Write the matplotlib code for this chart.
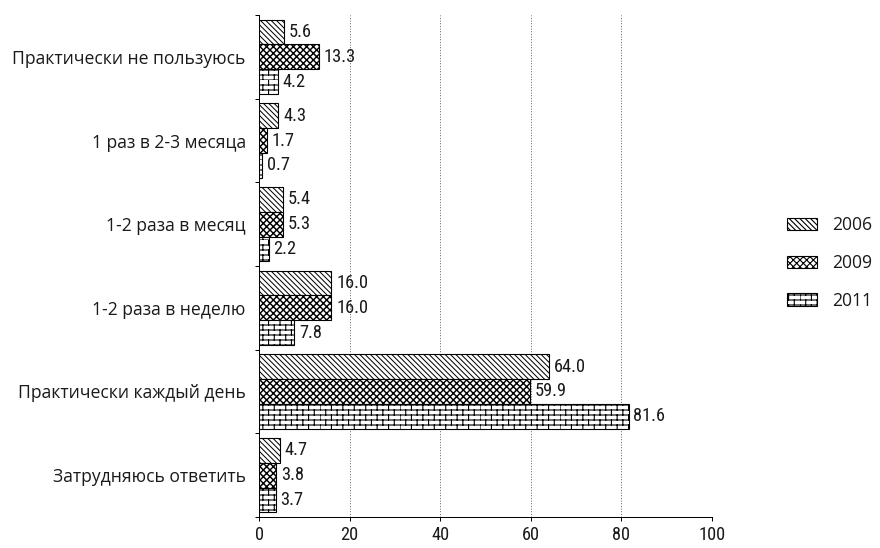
import matplotlib
matplotlib.use("Agg")
import matplotlib.pyplot as plt
import matplotlib.hatch as mhatch
from matplotlib.path import Path
import numpy as np

categories = ["Практически не пользуюсь", "1 раз в 2-3 месяца", "1-2 раза в месяц",
              "1-2 раза в неделю", "Практически каждый день", "Затрудняюсь ответить"]
years = ["2006", "2009", "2011"]
v2006 = [5.6, 4.3, 5.4, 16.0, 64.0, 4.7]
v2009 = [13.3, 1.7, 5.3, 16.0, 59.9, 3.8]
v2011 = [4.2, 0.7, 2.2, 7.8, 81.6, 3.7]
xticks = [0, 20, 40, 60, 80, 100]


class BrickHatch(mhatch.HatchPatternBase):
    def __init__(self, hatch, density):
        k = hatch.count('b')
        self.n = 16 * k
        self.m = 7
        self.num_vertices = (self.n * 2 + self.n * self.m * 2) if k else 0

    def set_vertices_and_codes(self, vertices, codes):
        n, m = self.n, self.m
        idx = 0
        for i in range(n):
            yv = i / n
            vertices[idx] = (0, yv); vertices[idx + 1] = (1, yv)
            codes[idx] = Path.MOVETO; codes[idx + 1] = Path.LINETO
            idx += 2
        for i in range(n):
            y0, y1 = i / n, (i + 1) / n
            off = 0.5 * (i % 2)
            for j in range(m):
                x = (j + off) / m
                vertices[idx] = (x, y0); vertices[idx + 1] = (x, y1)
                codes[idx] = Path.MOVETO; codes[idx + 1] = Path.LINETO
                idx += 2


mhatch._hatch_types.append(BrickHatch)

plt.rcParams['hatch.linewidth'] = 1.0
NARROW = ['Roboto Condensed', 'Liberation Sans Narrow', 'DejaVu Sans']
WIDE = ['Open Sans', 'DejaVu Sans']
plt.rcParams['font.family'] = NARROW

DPI = 80
fig = plt.figure(figsize=(880 / DPI, 548 / DPI), dpi=DPI)
ax = fig.add_axes([259 / 880, 1 - 517 / 548, (712 - 259) / 880, (517 - 15) / 548])

y = np.arange(len(categories))
h = 0.295
series = [v2006, v2009, v2011]
hatches = ['\\' * 5, 'xxxx', 'b']
hlw = [0.9, 1.3, 1.0]
fs = 16.5
for k, (vals, hat, yr) in enumerate(zip(series, hatches, years)):
    pos = y + (k - 1) * h
    bars = ax.barh(pos, vals, height=h, facecolor='white', edgecolor='black',
                   hatch=hat, linewidth=1.0, label=yr, zorder=3)
    for b in bars:
        if hasattr(b, 'set_hatch_linewidth'):
            b.set_hatch_linewidth(hlw[k])
    for b, v in zip(bars, vals):
        ax.text(b.get_width() + 1.0, b.get_y() + b.get_height() / 2, f"{v:.1f}",
                va='center', ha='left', fontsize=fs, color='#1a1a1a', zorder=4)

ax.set_xlim(0, 100)
ax.set_ylim(len(categories) - 0.5, -0.5)
ax.set_xticks(xticks)
ax.set_xticklabels([str(t) for t in xticks], fontsize=fs)
ax.set_yticks(y)
ax.set_yticklabels(categories, fontsize=15.8, family=WIDE, color='#1a1a1a')
ax.set_yticks(np.arange(-0.5, len(categories), 1.0), minor=True)
ax.tick_params(axis='y', which='major', length=0, pad=12)
ax.tick_params(axis='y', which='minor', length=4, width=0.9, direction='out')
ax.tick_params(axis='x', length=4, width=0.9, direction='out', pad=4, labelcolor='#1a1a1a')
ax.xaxis.grid(True, linestyle=(0, (1, 2)), color='#444444', linewidth=0.8, zorder=0)
ax.set_axisbelow(True)
for s in ['top', 'right']:
    ax.spines[s].set_visible(False)
for s in ['left', 'bottom']:
    ax.spines[s].set_linewidth(0.9)

leg = fig.legend(loc='center left', bbox_to_anchor=(787 / 880, 1 - 263 / 548), frameon=False,
                 prop={'family': WIDE, 'size': 15.8},
                 handlelength=1.72, handleheight=0.7, labelspacing=1.12, handletextpad=0.85,
                 borderaxespad=0, borderpad=0)
for t in leg.get_texts():
    t.set_color('#1a1a1a')

fig.savefig("out.png", dpi=DPI)
